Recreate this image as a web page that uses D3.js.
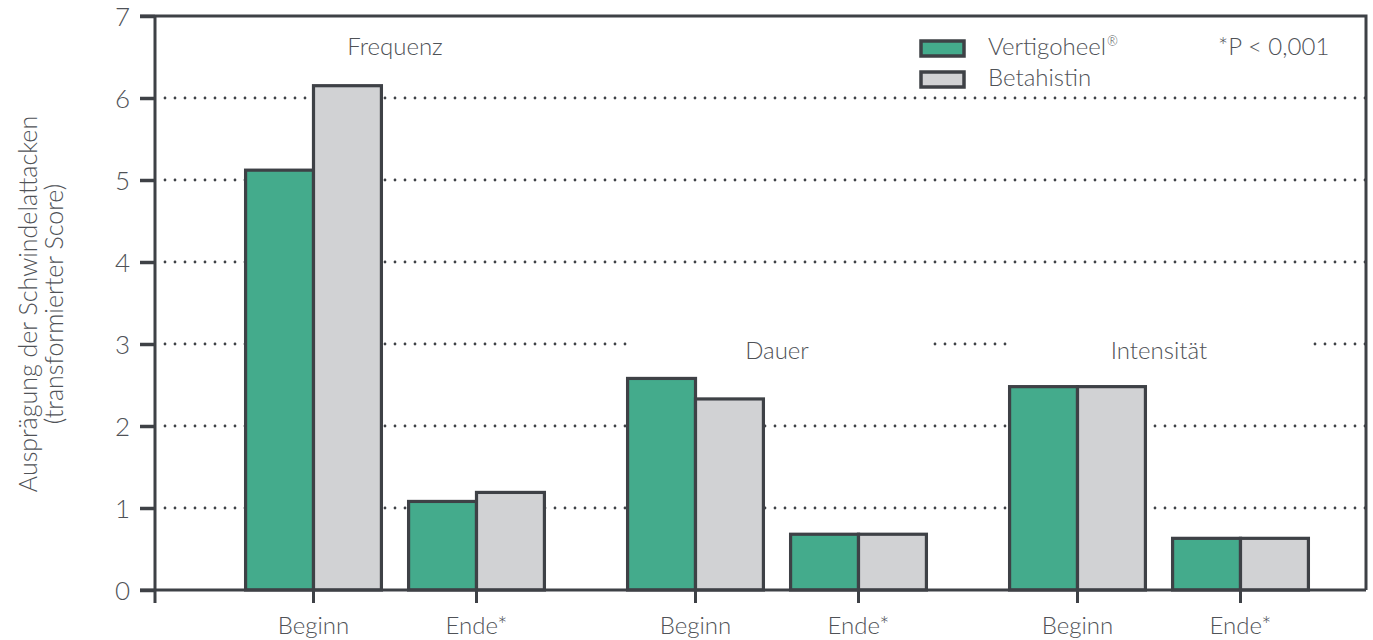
<!DOCTYPE html>
<html lang="de">
<head>
<meta charset="UTF-8">
<title>Schwindelattacken: Vertigoheel vs. Betahistin</title>
<script src="https://d3js.org/d3.v7.min.js"></script>
<style>
  body { margin: 0; background: #fff; }
  text { font-family: Lato, "Open Sans", sans-serif; font-weight: 300; fill: #4f5257; }
  .frame { stroke: #3e4146; stroke-width: 3; fill: none; }
  .grid line { stroke: #3e4146; stroke-width: 2.8; stroke-linecap: round; stroke-dasharray: 0 10; }
  .bar { stroke: #3e4146; stroke-width: 3.2; }
</style>
</head>
<body>
<div id="chart"></div>
<script>
// data
const groups = ["Frequenz", "Dauer", "Intensität"];
const times = ["Beginn", "Ende*"];
const seriesNames = ["Vertigoheel®", "Betahistin"];
const seriesColors = ["#44ab8c", "#d1d2d4"];
// order: Frequenz Beginn, Frequenz Ende, Dauer Beginn, Dauer Ende, Intensität Beginn, Intensität Ende
const vertigoheel = [5.12, 1.08, 2.58, 0.68, 2.48, 0.63];
const betahistin = [6.15, 1.19, 2.33, 0.68, 2.48, 0.63];
const yTicks = [0, 1, 2, 3, 4, 5, 6, 7];
const gridTicks = [1, 2, 3, 4, 5, 6];
const pNote = "*P < 0,001";
const yTitle = ["Ausprägung der Schwindelattacken", "(transformierter Score)"];

const W = 1373, H = 640;
const mLeft = 155, mRight = 1366, mTop = 16, mBottom = 590;

const svg = d3.select("#chart").append("svg")
  .attr("width", W).attr("height", H);

const y = d3.scaleLinear().domain([0, 7]).range([mBottom, mTop]);
const xGroup = d3.scaleBand().domain(groups).range([204, 1350]);
const xTime = d3.scaleBand().domain(times).range([28, 354]);
const xSeries = d3.scaleBand().domain(seriesNames).range([0, xTime.bandwidth()]).paddingOuter(0.2);

const rows = [];
groups.forEach((g, gi) => times.forEach((t, ti) => {
  const i = gi * times.length + ti;
  rows.push({ group: g, time: t, values: [vertigoheel[i], betahistin[i]] });
}));
const xPos = d => xGroup(d.group) + xTime(d.time);

// dotted grid
svg.append("g").attr("class", "grid")
  .selectAll("line").data(gridTicks).join("line")
  .attr("x1", mLeft + 10).attr("x2", mRight)
  .attr("y1", d => y(d)).attr("y2", d => y(d));

// white boxes behind the group titles (they cut the grid)
const titleY = [55, 359, 359];
svg.append("g").selectAll("rect").data(groups.slice(1)).join("rect")
  .attr("x", d => xGroup(d) + xGroup.bandwidth() / 2 - 150)
  .attr("y", y(3) - 12).attr("width", 300).attr("height", 24)
  .attr("fill", "#fff");

// bars
const grp = svg.append("g").selectAll("g").data(rows).join("g")
  .attr("transform", d => `translate(${xPos(d)},0)`);
grp.selectAll("rect").data(d => d.values.map((v, k) => ({ v, k }))).join("rect")
  .attr("class", "bar")
  .attr("x", d => xSeries(seriesNames[d.k]))
  .attr("width", xSeries.bandwidth())
  .attr("y", d => y(d.v))
  .attr("height", d => y(0) - y(d.v))
  .attr("fill", d => seriesColors[d.k]);

// frame: top + right border, baseline
svg.append("path").attr("class", "frame")
  .attr("d", `M${mLeft - 15},${mTop}H${mRight}V${mBottom}`);
svg.append("line").attr("class", "frame")
  .attr("x1", mLeft - 15).attr("x2", mRight).attr("y1", mBottom).attr("y2", mBottom);
svg.append("line").attr("class", "frame")
  .attr("x1", mLeft).attr("x2", mLeft).attr("y1", mTop).attr("y2", mBottom + 13);

// y axis
const yAxis = svg.append("g").attr("transform", `translate(${mLeft},0)`)
  .call(d3.axisLeft(y).tickValues(yTicks).tickFormat(d3.format("d"))
    .tickSize(15).tickSizeOuter(0).tickPadding(10));
yAxis.select(".domain").remove();
yAxis.selectAll(".tick line").attr("stroke", "#3e4146").attr("stroke-width", 3.5);
yAxis.selectAll(".tick text").attr("font-size", 26).attr("fill", "#4f5257")
  .attr("font-family", null).attr("dy", "0.36em");

// x ticks and labels
const xt = svg.append("g").selectAll("g").data(rows).join("g")
  .attr("transform", d => `translate(${xPos(d) + xTime.bandwidth() / 2},${mBottom})`);
xt.append("line").attr("class", "frame").attr("y1", 0).attr("y2", 13);
xt.append("text").attr("y", 44).attr("text-anchor", "middle")
  .attr("font-size", 24).text(d => d.time);

// group titles
svg.append("g").selectAll("text").data(groups).join("text")
  .attr("x", d => xGroup(d) + xGroup.bandwidth() / 2)
  .attr("y", (d, i) => titleY[i])
  .attr("text-anchor", "middle").attr("font-size", 24).text(d => d);

// legend
const lg = svg.append("g").attr("transform", "translate(921,41)");
const li = lg.selectAll("g").data(seriesNames).join("g")
  .attr("transform", (d, i) => `translate(0,${i * 31})`);
li.append("rect").attr("width", 43).attr("height", 15)
  .attr("fill", (d, i) => seriesColors[i]).attr("stroke", "#3e4146").attr("stroke-width", 3.5);
const lt = li.append("text").attr("x", 67).attr("y", 14).attr("font-size", 24);
lt.append("tspan").text(d => d.replace("®", ""));
lt.filter(d => d.includes("®")).append("tspan")
  .attr("font-size", 13).attr("dy", -9).attr("dx", 1).text("®");
svg.append("text").attr("x", 1218).attr("y", 55).attr("font-size", 24).text(pNote);

// y title
svg.append("g").selectAll("text").data(yTitle).join("text")
  .attr("transform", (d, i) => `translate(${37 + i * 26},304) rotate(-90)`)
  .attr("text-anchor", "middle").attr("font-size", 25).text(d => d);
</script>
</body>
</html>
